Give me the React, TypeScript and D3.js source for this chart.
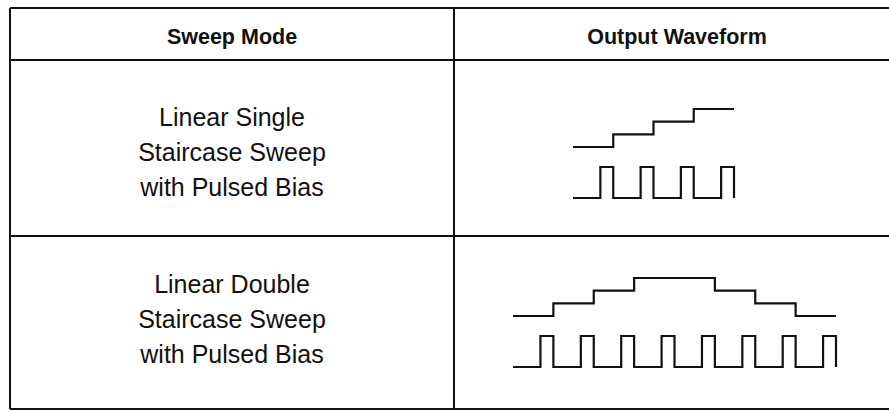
import * as React from "react";
import * as d3 from "d3";

// table text
const headers = ["Sweep Mode", "Output Waveform"];
const singleModeLabel = ["Linear Single", "Staircase Sweep", "with Pulsed Bias"];
const doubleModeLabel = ["Linear Double", "Staircase Sweep", "with Pulsed Bias"];

// staircase levels per step
const singleStairLevels = [0, 1, 2, 3];
const doubleStairLevels = [0, 1, 2, 3, 3, 2, 1, 0];
const maxLevel = 3;

// bias pulse starts at this fraction of each step, ends at the step edge
const pulseRise = 0.68;

const W = 889;
const H = 411;
const left = 10;
const right = 897;
const top = 8;
const headerBottom = 60;
const colSplit = 454;
const bottom = 409;
const ink = "#111";

const rows = [
  { labels: singleModeLabel, levels: singleStairLevels, x0: 573, x1: 734, stairBase: 147, pulseBase: 198, textBase: 126 },
  { labels: doubleModeLabel, levels: doubleStairLevels, x0: 513, x1: 836, stairBase: 316, pulseBase: 367, textBase: 293 },
];

function stairPoints(levels: number[]) {
  const pts: [number, number][] = [];
  levels.forEach((l, i) => {
    pts.push([i, l]);
    pts.push([i + 1, l]);
  });
  return pts;
}

function pulsePoints(n: number) {
  const pts: [number, number][] = [[0, 0]];
  for (let i = 0; i < n; i++) {
    pts.push([i + pulseRise, 0], [i + pulseRise, 1], [i + 1, 1], [i + 1, 0]);
  }
  return pts;
}

function Waveform({ row }: any) {
  const n = row.levels.length;
  const x = d3.scaleLinear().domain([0, n]).range([row.x0, row.x1]);
  const ys = d3.scaleLinear().domain([0, maxLevel]).range([row.stairBase, row.stairBase - 38]);
  const yp = d3.scaleLinear().domain([0, 1]).range([row.pulseBase, row.pulseBase - 31]);
  const stair = d3.line<[number, number]>().x(d => x(d[0])).y(d => ys(d[1]));
  const pulse = d3.line<[number, number]>().x(d => x(d[0])).y(d => yp(d[1]));
  return (
    <g fill="none" stroke={ink} strokeWidth={2.2} strokeLinejoin="miter">
      <path d={stair(stairPoints(row.levels)) || ""} />
      <path d={pulse(pulsePoints(n)) || ""} />
    </g>
  );
}

export default function App() {
  const leftMid = (left + colSplit) / 2;
  const rightMid = 677;
  return (
    <svg width={W} height={H} style={{ position: "absolute", left: 0, top: 0, background: "#fff" }}
      fontFamily="'Liberation Sans', Arial, sans-serif">
      <rect x={0} y={0} width={W} height={H} fill="#fff" />
      <g stroke={ink} strokeWidth={2}>
        <line x1={left} y1={top} x2={right} y2={top} />
        <line x1={left} y1={headerBottom} x2={right} y2={headerBottom} />
        <line x1={left} y1={236} x2={right} y2={236} />
        <line x1={left} y1={bottom} x2={right} y2={bottom} />
        <line x1={left} y1={top} x2={left} y2={bottom} />
        <line x1={colSplit} y1={top} x2={colSplit} y2={bottom} />
      </g>
      <g fill={ink} fontWeight="bold" fontSize={21.5} textAnchor="middle">
        <text x={leftMid} y={44}>{headers[0]}</text>
        <text x={rightMid} y={44}>{headers[1]}</text>
      </g>
      {rows.map((row, ri) => (
        <g key={ri}>
          <g fill={ink} fontSize={25} textAnchor="middle">
            {row.labels.map((t, i) => (
              <text key={i} x={leftMid} y={row.textBase + i * 35}>{t}</text>
            ))}
          </g>
          <Waveform row={row} />
        </g>
      ))}
    </svg>
  );
}
